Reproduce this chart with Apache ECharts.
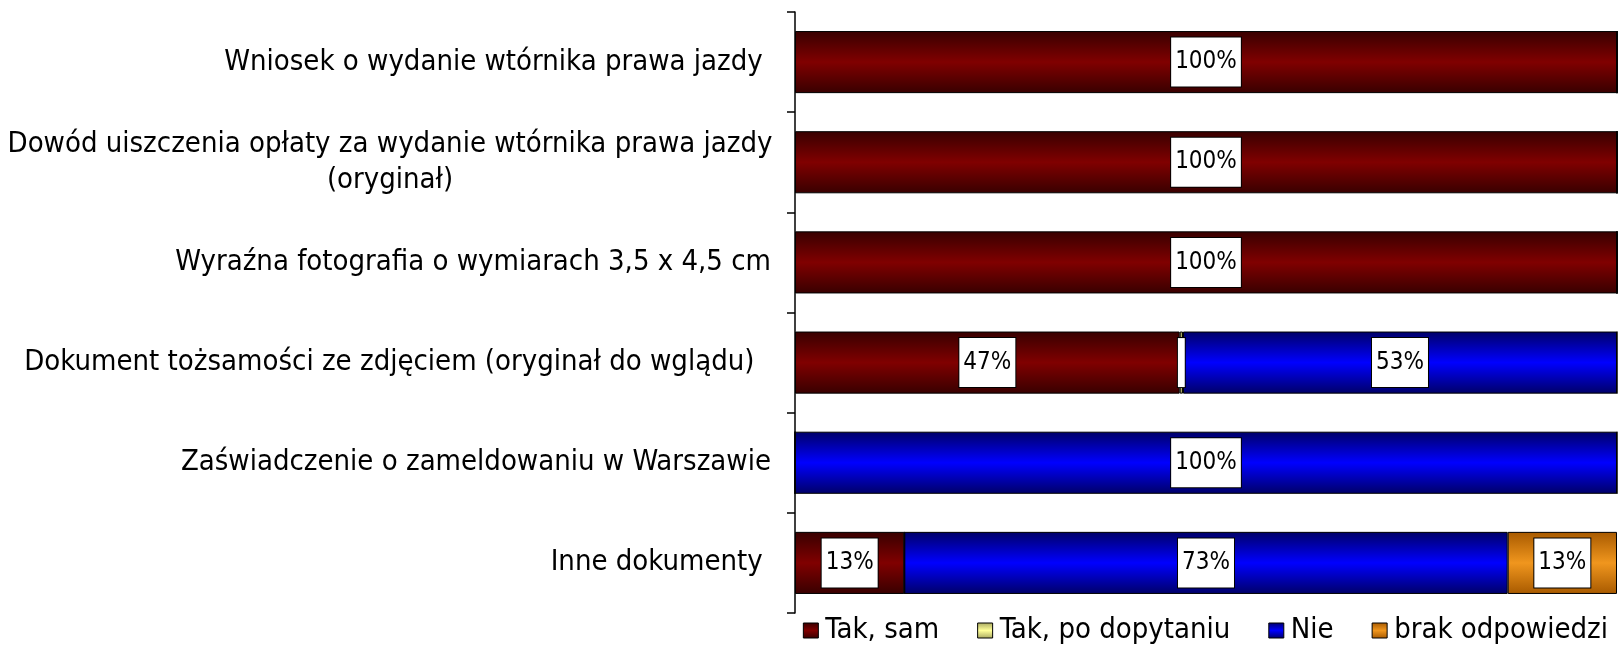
<!DOCTYPE html>
<html>
<head>
<meta charset="utf-8">
<script src="https://cdn.jsdelivr.net/npm/echarts@6/dist/echarts.min.js"></script>
<style>
  html, body { margin: 0; padding: 0; background: #fff; }
  #chart { width: 1619px; height: 646px; }
</style>
</head>
<body>
<div id="chart"></div>
<script>
// categories, top to bottom
var categories = [
    "Wniosek o wydanie wtórnika prawa jazdy ",
    "Dowód uiszczenia opłaty za wydanie wtórnika prawa jazdy\n(oryginał)",
    "Wyraźna fotografia o wymiarach 3,5 x 4,5 cm",
    "Dokument tożsamości ze zdjęciem (oryginał do wglądu)  ",
    "Zaświadczenie o zameldowaniu w Warszawie",
    "Inne dokumenty "
];
var seriesNames = ["Tak, sam", "Tak, po dopytaniu", "Nie", "brak odpowiedzi"];
var takSam = [100, 100, 100, 46.8, 0, 13.3];
var takDopyt = [0, 0, 0, 0.4, 0, 0];
var nie = [0, 0, 0, 52.8, 100, 73.4];
var brak = [0, 0, 0, 0, 0, 13.3];

// dark edge / bright middle, like the cylinder look
var palette = [
    ["#380000", "#800000"],
    ["#a8a860", "#ffff99"],
    ["#000068", "#0000ff"],
    ["#a85a00", "#f0961e"]
];

function grad(c) {
    return new echarts.graphic.LinearGradient(0, 0, 0, 1, [
        { offset: 0, color: c[0] },
        { offset: 0.5, color: c[1] },
        { offset: 1, color: c[0] }
    ]);
}

var fontNarrow = "'DejaVu Sans Condensed', 'DejaVu Sans', sans-serif";

function makeSeries(name, values, idx) {
    var data = values.map(function (v) {
        if (v <= 0) return { value: v, label: { show: false } };
        // tiny slice: Excel leaves an empty label box there
        if (v < 1) return { value: v, label: { show: true, formatter: " ", padding: [12, 0, 12, 0] } };
        return v;
    });
    return {
        name: name,
        type: "bar",
        stack: "all",
        barWidth: "62%",
        data: data,
        itemStyle: { color: grad(palette[idx]), borderColor: "#000", borderWidth: 1 },
        label: {
            show: true,
            position: "inside",
            color: "#000",
            fontFamily: fontNarrow,
            fontSize: 24,
            lineHeight: 25,
            backgroundColor: "#fff",
            borderColor: "#000",
            borderWidth: 1,
            padding: [12, 4, 12, 4],
            formatter: function (p) {
                return Math.round(p.value) + "%";
            }
        },
        emphasis: { disabled: true }
    };
}

var chart = echarts.init(document.getElementById("chart"));
chart.setOption({
    animation: false,
    legend: {
        right: 6,
        top: 611,
        icon: "rect",
        itemWidth: 15,
        itemHeight: 15,
        itemGap: 38,
        itemStyle: { borderColor: "#000", borderWidth: 1 },
        textStyle: { fontFamily: fontNarrow, fontSize: 29, color: "#000", padding: [0, 0, 0, 2] },
        data: seriesNames
    },
    grid: { left: 795, right: 2, top: 12, bottom: 33 },
    xAxis: { type: "value", min: 0, max: 100, show: false },
    yAxis: {
        type: "category",
        inverse: true,
        data: categories,
        axisLine: { lineStyle: { color: "#000", width: 1.5 } },
        axisTick: { show: true, length: 8, lineStyle: { color: "#000", width: 1.5 } },
        axisLabel: {
            color: "#000",
            fontFamily: fontNarrow,
            fontSize: 29,
            margin: 24,
            lineHeight: 36,
            formatter: function (v) {
                if (v.indexOf("\n") < 0) return v;
                return v.split("\n").map(function (s) { return "{c|" + s + "}"; }).join("\n");
            },
            rich: {
                c: { width: 762, align: "center", fontFamily: fontNarrow, fontSize: 29, lineHeight: 36, color: "#000" }
            }
        }
    },
    series: [
        makeSeries(seriesNames[0], takSam, 0),
        makeSeries(seriesNames[1], takDopyt, 1),
        makeSeries(seriesNames[2], nie, 2),
        makeSeries(seriesNames[3], brak, 3)
    ]
});
</script>
</body>
</html>
